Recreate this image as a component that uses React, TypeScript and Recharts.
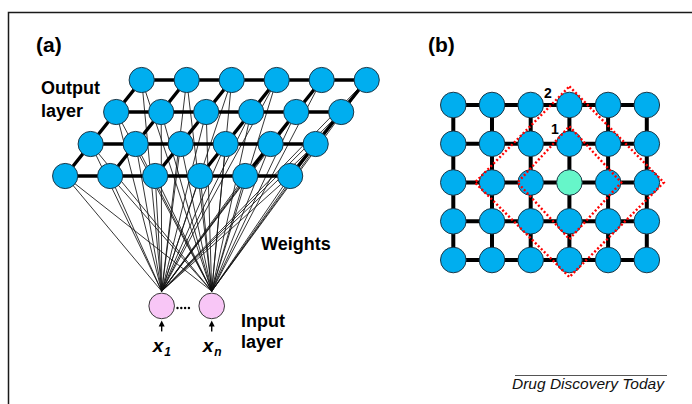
import { ScatterChart, Scatter, XAxis, YAxis } from "recharts";

// (a) output layer: 4 rows x 6 columns, each row slides left as it comes forward
const mapCols = [0, 1, 2, 3, 4, 5];
const mapRows = [0, 1, 2, 3];
const rowSlide = 0.567;

// input neurons x1 ... xn, placed in map units below the output layer
const inputNames = ["1", "n"];
const inputCols = [0.444, 1.556];
const inputRow = 7.06;
const inputTapRow = 6.6;

// (b) Kohonen lattice: 5 rows x 6 columns, winning neuron + neighbourhood rings
const latticeCols = [0, 1, 2, 3, 4, 5];
const latticeRows = [0, 1, 2, 3, 4];
const winnerCol = 3;
const winnerRow = 2;
const ringNames = ["1", "2"];
const ringHalfWidth = [1.34, 2.44];
const ringHalfHeightUp = [1.45, 2.48];
const ringHalfHeightDown = [1.46, 2.44];

const FONT = "'Liberation Sans', Arial, Helvetica, sans-serif";
const NODE_BLUE = "#00aeef";
const NODE_EDGE = "#1d3747";
const WINNER_GREEN = "#66f6c9";
const INPUT_PINK = "#f8c6f6";

type Pt = { x: number; y: number };

const outNode = (r: number, c: number): Pt => ({ x: c - rowSlide * r, y: r });
const outputNodes: Pt[] = mapRows.flatMap((r) => mapCols.map((c) => outNode(r, c)));
const rowLinesA: Pt[][] = mapRows.map((r) => mapCols.map((c) => outNode(r, c)));
const colLinesA: Pt[][] = mapCols.map((c) => mapRows.map((r) => outNode(r, c)));
const inputs = inputNames.map((name, i) => ({ name, x: inputCols[i], y: inputRow }));
const weights: Pt[][] = inputCols.flatMap((ix) =>
  outputNodes.map((n) => [{ x: ix, y: inputTapRow }, n])
);

const latticeNodes = latticeRows.flatMap((r) =>
  latticeCols.map((c) => ({ x: c, y: r, win: c === winnerCol && r === winnerRow }))
);
const rowLinesB: Pt[][] = latticeRows.map((r) => latticeCols.map((c) => ({ x: c, y: r })));
const colLinesB: Pt[][] = latticeCols.map((c) => latticeRows.map((r) => ({ x: c, y: r })));
const rings: Pt[][] = ringNames.map((_, i) => {
  const w = ringHalfWidth[i];
  return [
    { x: winnerCol, y: winnerRow - ringHalfHeightUp[i] },
    { x: winnerCol + w, y: winnerRow },
    { x: winnerCol, y: winnerRow + ringHalfHeightDown[i] },
    { x: winnerCol - w, y: winnerRow },
    { x: winnerCol, y: winnerRow - ringHalfHeightUp[i] },
  ];
});

const noMark = () => <g />;

function polyline(key: string, data: Pt[], line: Record<string, unknown>) {
  return (
    <Scatter
      key={key}
      data={data}
      line={line}
      shape={noMark}
      legendType="none"
      isAnimationActive={false}
    />
  );
}

function BlueNode(p: any) {
  return (
    <circle cx={p.cx} cy={p.cy} r={12.6} fill={NODE_BLUE} stroke={NODE_EDGE} strokeWidth={1} />
  );
}

function LatticeNode(p: any) {
  return (
    <circle
      cx={p.cx}
      cy={p.cy}
      r={12.8}
      fill={p.payload.win ? WINNER_GREEN : NODE_BLUE}
      stroke={NODE_EDGE}
      strokeWidth={1}
    />
  );
}

function InputNeuron(p: any) {
  const { cx, cy, payload } = p;
  return (
    <g>
      <circle cx={cx} cy={cy} r={12.8} fill={INPUT_PINK} stroke="#3a3a3a" strokeWidth={1} />
      <line x1={cx} y1={cy + 25.5} x2={cx} y2={cy + 19} stroke="#000" strokeWidth={1.4} />
      <path d={`M${cx - 3},${cy + 20.5} L${cx},${cy + 14.5} L${cx + 3},${cy + 20.5} Z`} fill="#000" />
      <text
        x={cx - 9}
        y={cy + 46}
        fontFamily={FONT}
        fontStyle="italic"
        fontWeight="bold"
        fontSize={19}
        fill="#000"
      >
        x
        <tspan fontSize={12} dx={1} dy={4}>
          {payload.name}
        </tspan>
      </text>
    </g>
  );
}

function PanelA() {
  return (
    <ScatterChart width={692} height={404} margin={{ top: 0, right: 0, bottom: 0, left: 0 }}>
      <XAxis type="number" dataKey="x" domain={[-3.149, 12.229]} allowDataOverflow hide />
      <YAxis type="number" dataKey="y" domain={[-2.5, 10.125]} reversed allowDataOverflow hide />
      {weights.map((seg, i) => polyline(`w${i}`, seg, { stroke: "#111", strokeWidth: 0.85 }))}
      {rowLinesA.map((l, i) => polyline(`ra${i}`, l, { stroke: "#000", strokeWidth: 3.4 }))}
      {colLinesA.map((l, i) => polyline(`ca${i}`, l, { stroke: "#000", strokeWidth: 3.4 }))}
      <Scatter data={outputNodes} shape={BlueNode} legendType="none" isAnimationActive={false} />
      <Scatter data={inputs} shape={InputNeuron} legendType="none" isAnimationActive={false} />
    </ScatterChart>
  );
}

function PanelB() {
  return (
    <ScatterChart width={692} height={404} margin={{ top: 0, right: 0, bottom: 0, left: 0 }}>
      <XAxis type="number" dataKey="x" domain={[-11.713, 6.168]} allowDataOverflow hide />
      <YAxis type="number" dataKey="y" domain={[-2.71, 7.716]} reversed allowDataOverflow hide />
      {rowLinesB.map((l, i) => polyline(`rb${i}`, l, { stroke: "#000", strokeWidth: 4 }))}
      {colLinesB.map((l, i) => polyline(`cb${i}`, l, { stroke: "#000", strokeWidth: 4 }))}
      <Scatter data={latticeNodes} shape={LatticeNode} legendType="none" isAnimationActive={false} />
      {rings.map((l, i) =>
        polyline(`ring${i}`, l, {
          stroke: "#ff0000",
          strokeWidth: 2.4,
          strokeDasharray: "2 2.2",
        })
      )}
    </ScatterChart>
  );
}

const layer: React.CSSProperties = { position: "absolute", left: 0, top: 0 };

export default function App() {
  return (
    <div style={{ position: "absolute", left: 0, top: 0, width: 692, height: 404, background: "#fff" }}>
      <div style={layer}>
        <PanelA />
      </div>
      <div style={layer}>
        <PanelB />
      </div>
      <svg width={692} height={404} style={{ ...layer, pointerEvents: "none" }} fontFamily={FONT}>
        <path d="M8.5,404 V12.5 H692" fill="none" stroke="#1a1a1a" strokeWidth={1.5} />
        <g fontWeight="bold" fill="#000">
          <text x={36} y={52} fontSize={21}>(a)</text>
          <text x={428} y={52} fontSize={21}>(b)</text>
          <text x={41} y={94} fontSize={18}>Output</text>
          <text x={41} y={117} fontSize={18}>layer</text>
          <text x={261} y={250} fontSize={18}>Weights</text>
          <text x={241} y={327} fontSize={18}>Input</text>
          <text x={241} y={348} fontSize={18}>layer</text>
          <text x={544} y={98} fontSize={14}>{ringNames[1]}</text>
          <text x={551} y={134} fontSize={14}>{ringNames[0]}</text>
        </g>
        <g fill="#000">
          <circle cx={177.5} cy={308} r={1.2} />
          <circle cx={181.3} cy={308} r={1.2} />
          <circle cx={185.1} cy={308} r={1.2} />
          <circle cx={188.9} cy={308} r={1.2} />
        </g>
        <line x1={515} y1={375.5} x2={667} y2={375.5} stroke="#555" strokeWidth={1} />
        <text x={512} y={389} fontSize={15.5} fontStyle="italic" fill="#111">
          Drug Discovery Today
        </text>
      </svg>
    </div>
  );
}
